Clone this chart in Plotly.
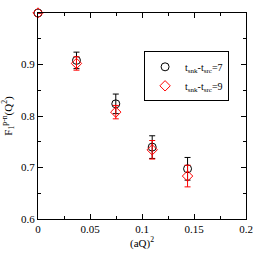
import plotly.graph_objects as go

x_vals = [0.0, 0.037, 0.0748, 0.1098, 0.1438]
f7 = [1.0, 0.908, 0.8236, 0.7396, 0.6975]
e7 = [0.0, 0.016, 0.019, 0.022, 0.022]
f9 = [1.0, 0.902, 0.8075, 0.7344, 0.6834]
e9 = [0.0, 0.013, 0.013, 0.018, 0.021]
names = ["t<sub>snk</sub>-t<sub>src</sub>=7", "t<sub>snk</sub>-t<sub>src</sub>=9"]

fig = go.Figure()
fig.add_trace(go.Scatter(
    x=x_vals, y=f7, mode="markers", name=names[0], cliponaxis=False,
    marker=dict(symbol="circle-open", size=8, color="black", line=dict(width=1)),
    error_y=dict(type="data", array=e7, color="black", thickness=1, width=3),
))
fig.add_trace(go.Scatter(
    x=x_vals, y=f9, mode="markers", name=names[1], cliponaxis=False,
    marker=dict(symbol="diamond-open", size=8, color="red", line=dict(width=1)),
    error_y=dict(type="data", array=e9, color="red", thickness=1, width=3),
))

axis_common = dict(
    showgrid=False, zeroline=False, showline=True, linecolor="black", linewidth=1,
    mirror="allticks", ticks="inside", ticklen=5, tickcolor="black",
    automargin=False, ticklabeloverflow="allow",
    tickfont=dict(family="Liberation Serif", size=11, color="black"),
)
fig.update_xaxes(range=[0, 0.2], tickvals=[0, 0.05, 0.1, 0.15, 0.2],
                 ticktext=["0", "0.05", "0.1", "0.15", "0.2"],
                 minor=dict(dtick=0.025, ticks="inside", ticklen=3, tickcolor="black"),
                 title=dict(text="(aQ)<sup>2</sup>", font=dict(family="Liberation Serif", size=11, color="black"), standoff=2),
                 **axis_common)
fig.update_yaxes(range=[0.6, 1.0], tickvals=[0.6, 0.7, 0.8, 0.9],
                 ticktext=["0.6", "0.7", "0.8", "0.9"],
                 minor=dict(dtick=0.05, ticks="inside", ticklen=3, tickcolor="black"),
                 title=dict(text="F<sub>1</sub><sup>p-n</sup>(Q<sup>2</sup>)", font=dict(family="Liberation Serif", size=11, color="black"), standoff=8),
                 **axis_common)

fig.update_layout(
    width=258, height=258,
    margin=dict(l=38, r=12, t=13, b=39),
    plot_bgcolor="white", paper_bgcolor="white",
    legend=dict(x=0.51, y=0.814, xanchor="left", yanchor="top",
                bordercolor="black", borderwidth=1, bgcolor="white",
                font=dict(family="Liberation Serif", size=10, color="black"),
                tracegroupgap=0, itemwidth=30),
    showlegend=True,
)
fig.write_html("out.html", config={"displayModeBar": False},
               post_script="document.body.style.margin='0';document.body.style.overflow='hidden';")
